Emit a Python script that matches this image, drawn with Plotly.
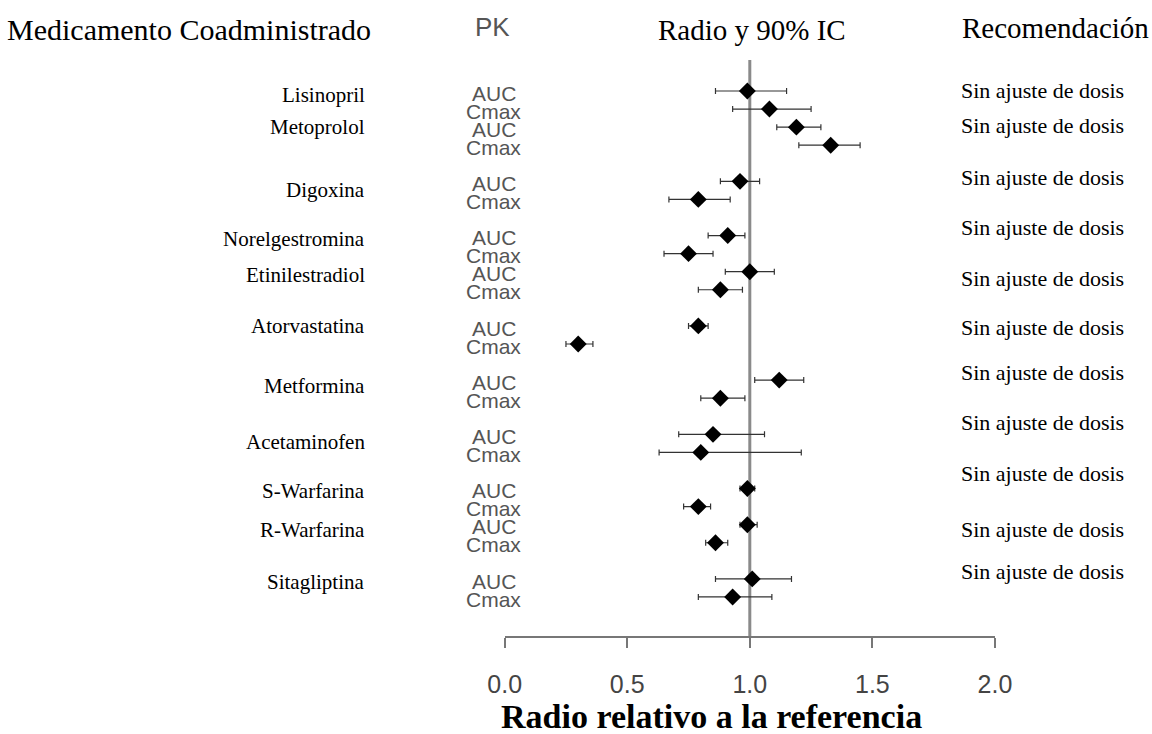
import plotly.graph_objects as go

# ---------------- data ----------------
drugs = ["Lisinopril", "Metoprolol", "Digoxina", "Norelgestromina", "Etinilestradiol",
         "Atorvastatina", "Metformina", "Acetaminofen", "S-Warfarina", "R-Warfarina",
         "Sitagliptina"]
auc_ratio = [0.99, 1.19, 0.96, 0.91, 1.00, 0.79, 1.12, 0.85, 0.99, 0.99, 1.01]
auc_lo    = [0.86, 1.11, 0.88, 0.83, 0.90, 0.75, 1.02, 0.71, 0.96, 0.96, 0.86]
auc_hi    = [1.15, 1.29, 1.04, 0.98, 1.10, 0.83, 1.22, 1.06, 1.02, 1.03, 1.17]
cmax_ratio = [1.08, 1.33, 0.79, 0.75, 0.88, 0.30, 0.88, 0.80, 0.79, 0.86, 0.93]
cmax_lo    = [0.93, 1.20, 0.67, 0.65, 0.79, 0.25, 0.80, 0.63, 0.73, 0.82, 0.79]
cmax_hi    = [1.25, 1.45, 0.92, 0.85, 0.97, 0.36, 0.98, 1.21, 0.84, 0.91, 1.09]
recommendation = ["Sin ajuste de dosis"] * 11
pk_params = ["AUC", "Cmax"]
tick_vals = [0, 0.5, 1.0, 1.5, 2.0]
tick_text = ["0.0", "0.5", "1.0", "1.5", "2.0"]

# ---------------- layout helpers ----------------
blocks = [[0, 1], [2], [3, 4], [5], [6], [7], [8, 9], [10]]
W, H = 1152, 734
TOP, BOT = 60, 636
ROW0, ROWH = 91, 18.07
SX = 0.966  # horizontal calibration

auc_row, cmax_row = [0] * 11, [0] * 11
r = 0
for b in blocks:
    for d in b:
        auc_row[d] = r
        cmax_row[d] = r + 1
        r += 2
    r += 1

y_top = -(ROW0 - TOP) / ROWH
y_bot = (BOT - ROW0) / ROWH


def py(pix):
    return (BOT - pix) / (BOT - TOP)


def cx(pix):
    return W / 2 + (pix - W / 2) / SX


def px(pix):
    return cx(pix) / W


serif = "Liberation Serif, Times New Roman, serif"
sans = "Liberation Sans, Arial, sans-serif"

fig = go.Figure()

ys, xs, em, ep = [], [], [], []
for i in range(len(drugs)):
    ys += [auc_row[i], cmax_row[i]]
    xs += [auc_ratio[i], cmax_ratio[i]]
    em += [auc_ratio[i] - auc_lo[i], cmax_ratio[i] - cmax_lo[i]]
    ep += [auc_hi[i] - auc_ratio[i], cmax_hi[i] - cmax_ratio[i]]

fig.add_trace(go.Scatter(
    x=xs, y=ys, mode="markers",
    marker=dict(symbol="diamond", size=13, color="black"),
    error_x=dict(type="data", symmetric=False, array=ep, arrayminus=em,
                 color="#333333", thickness=1.2, width=3),
    showlegend=False, hoverinfo="x"))

fig.add_shape(type="line", x0=1, x1=1, xref="x", y0=0, y1=1, yref="paper",
              line=dict(color="#8a8a8a", width=3), layer="below")

ann = []
ann.append(dict(text="Medicamento Coadministrado", x=px(8), y=py(29), xanchor="left",
                font=dict(family=serif, size=30, color="black")))
ann.append(dict(text="PK", x=px(493), y=py(27), xanchor="center",
                font=dict(family=sans, size=26, color="#555555")))
ann.append(dict(text="Radio y 90% IC", x=px(751), y=py(30), xanchor="center",
                font=dict(family=serif, size=29, color="black")))
ann.append(dict(text="Recomendación", x=px(1148), y=py(28), xanchor="right",
                font=dict(family=serif, size=29, color="black")))
ann.append(dict(text="<b>Radio relativo a la referencia</b>", x=px(711), y=py(716),
                xanchor="center", font=dict(family=serif, size=34, color="black")))

label_shift = [0.2, 0.0, 0.5, 0.2, 0.2, 0.0, 0.3, 0.45, 0.15, 0.3, 0.15]
rec_pix = [90, 125, 177, 227, 278, 327, 372, 422, 473, 529, 571]
for i, d in enumerate(drugs):
    ann.append(dict(text=d, x=px(368), xanchor="right", y=auc_row[i] + label_shift[i], yref="y",
                    font=dict(family=serif, size=21, color="black")))
    for rr, t in zip([auc_row[i], cmax_row[i]], pk_params):
        ann.append(dict(text=t, x=px(494), xanchor="center", y=rr + 0.12, yref="y",
                        font=dict(family=sans, size=21, color="#555555")))
    ann.append(dict(text=recommendation[i], x=px(1040), xanchor="center", y=py(rec_pix[i]),
                    font=dict(family=serif, size=22, color="black")))

for a in ann:
    a.setdefault("xref", "paper")
    a.setdefault("yref", "paper")
    a.setdefault("yanchor", "middle")
    a["showarrow"] = False

fig.update_layout(
    width=W, height=H,
    margin=dict(l=0, r=0, t=TOP, b=H - BOT, pad=0),
    paper_bgcolor="white", plot_bgcolor="white",
    annotations=ann,
    xaxis=dict(domain=[cx(505) / W, cx(993) / W], range=[0, 2], tickvals=tick_vals,
               ticktext=tick_text,
               showgrid=False, zeroline=False, showline=True, linecolor="#777777", linewidth=1.5,
               ticks="outside", ticklen=10, tickwidth=1.5, tickcolor="#777777",
               tickfont=dict(family=sans, size=25, color="#444444"), ticklabelstandoff=15,
               fixedrange=True),
    yaxis=dict(range=[y_bot, y_top], visible=False, showgrid=False, zeroline=False,
               fixedrange=True),
)

fig.write_html("out.html")
